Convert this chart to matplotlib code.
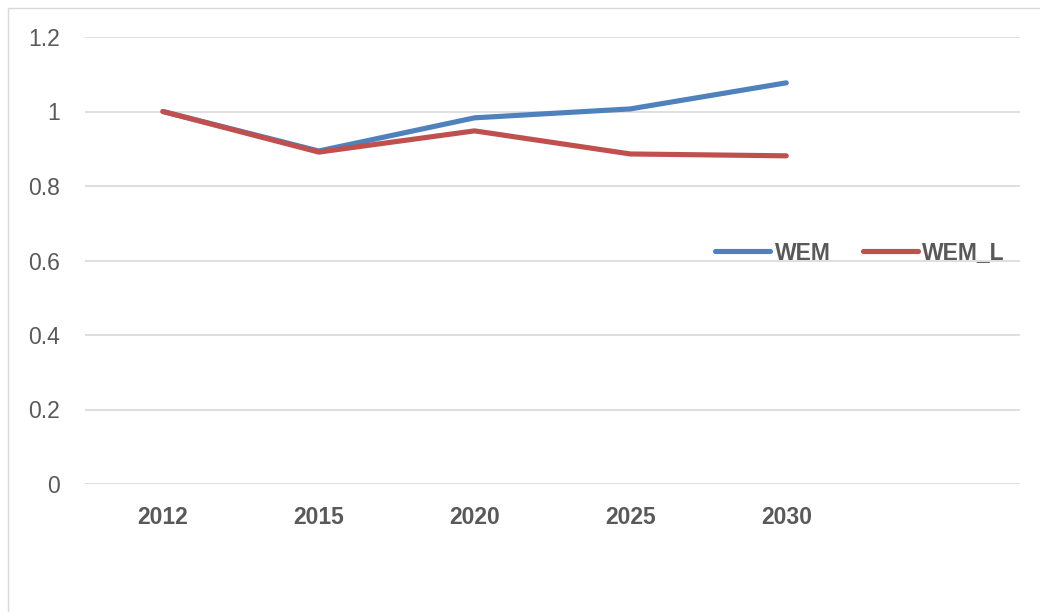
import numpy as np
import matplotlib
matplotlib.use('Agg')
import matplotlib.pyplot as plt
from matplotlib.patches import Rectangle

years = ['2012', '2015', '2020', '2025', '2030']
wem = [1.0, 0.894, 0.983, 1.007, 1.077]
wem_l = [1.0, 0.891, 0.948, 0.886, 0.881]
yticks = [0, 0.2, 0.4, 0.6, 0.8, 1, 1.2]
ytick_labels = ['0', '0.2', '0.4', '0.6', '0.8', '1', '1.2']

plt.rcParams['font.family'] = ['Liberation Sans', 'DejaVu Sans']

fig = plt.figure(figsize=(10.4, 6.12), dpi=100)
ax = fig.add_axes([85 / 1040, 1 - 484 / 612, 935 / 1040, 447 / 612])

# outer chart border (top and left visible only)
fig.patches.append(Rectangle((8 / 1040, -0.05), 1.1, 1 - 8 / 612 + 0.05,
                             transform=fig.transFigure, fill=False,
                             edgecolor='#d9d9d9', linewidth=1))

ind = np.arange(len(years))
ax.plot(ind, wem, color='#4f81bd', linewidth=3.7, solid_capstyle='round',
        solid_joinstyle='round', label='WEM', zorder=3)
ax.plot(ind, wem_l, color='#c0504d', linewidth=3.7, solid_capstyle='round',
        solid_joinstyle='round', label='WEM_L', zorder=3)

ax.set_xlim(-0.5, 5.5)
ax.set_ylim(0, 1.2)
ax.set_yticks(yticks)
ax.set_yticklabels(ytick_labels)
ax.set_xticks(ind)
ax.set_xticklabels(years, fontweight='bold')

ax.grid(axis='y', color='#d9d9d9', linewidth=1.2)
ax.set_axisbelow(True)
for s in ax.spines.values():
    s.set_visible(False)
ax.tick_params(length=0, colors='#595959', labelsize=16.5)
ax.tick_params(axis='y', pad=18)
ax.tick_params(axis='x', pad=16)

leg = ax.legend(loc='center right', bbox_to_anchor=(1005 / 1040, 1 - 253 / 612),
                bbox_transform=fig.transFigure, ncol=2, frameon=False,
                handlelength=2.4, handletextpad=0.2, columnspacing=1.4,
                borderaxespad=0, borderpad=0,
                prop={'weight': 'bold', 'size': 16.5})
for t in leg.get_texts():
    t.set_color('#595959')

plt.savefig('out.png', dpi=100)
